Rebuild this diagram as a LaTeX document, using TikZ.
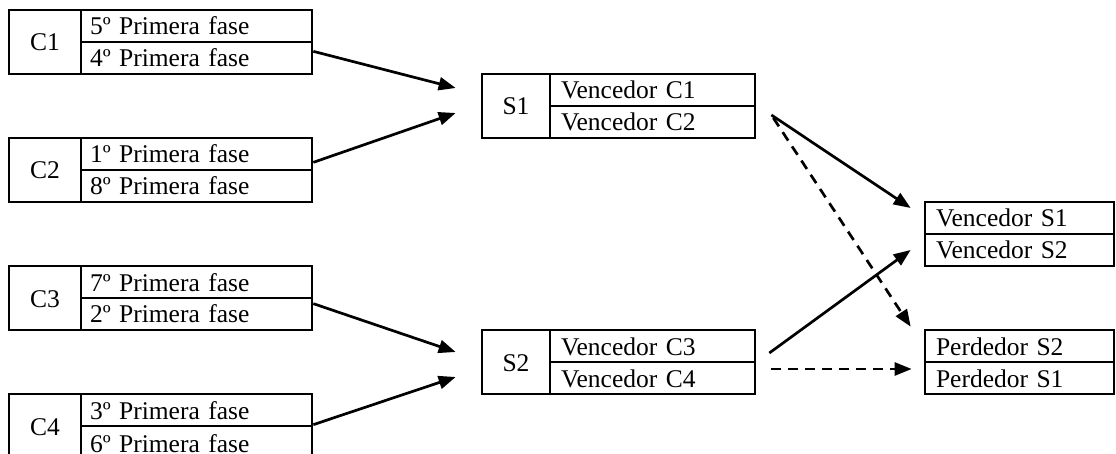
\documentclass[tikz,border=0pt]{standalone}
\usepackage{fontspec}
\setmainfont{Liberation Serif}
\usetikzlibrary{arrows.meta}
\begin{document}
\begin{tikzpicture}[x=1pt,y=-1pt,
  cell/.style={draw, line width=2.7pt, inner ysep=0pt, text height=22pt, text depth=4pt,
    font=\fontsize{25.5}{30}\selectfont},
  clab/.style={cell, minimum width=72pt, minimum height=64pt, inner xsep=0pt, align=center},
  slab/.style={cell, minimum width=68pt, minimum height=64pt, inner xsep=0pt, align=center},
  crow/.style={cell, minimum height=32pt, text width=213pt, inner xsep=9pt, align=left},
  srow/.style={cell, minimum height=32pt, text width=183pt, inner xsep=11pt, align=left},
  rrow/.style={cell, minimum height=32pt, text width=167pt, inner xsep=11pt, align=left},
  arr/.style={line width=2.7pt, -{Triangle[length=17pt,width=13pt]}},
  darr/.style={arr, dash pattern=on 10pt off 7pt}]
\useasboundingbox (0,0) rectangle (1116,454);
% C boxes
\node[clab] (c1l) at (45,42) {C1};
\node[crow] (c1a) at (196.5,26) {5º Primera fase};
\node[crow] (c1b) at (196.5,58) {4º Primera fase};
\node[clab] (c2l) at (45,170) {C2};
\node[crow] (c2a) at (196.5,154) {1º Primera fase};
\node[crow] (c2b) at (196.5,186) {8º Primera fase};
\node[clab] (c3l) at (45,298) {C3};
\node[crow] (c3a) at (196.5,282) {7º Primera fase};
\node[crow] (c3b) at (196.5,314) {2º Primera fase};
\node[clab] (c4l) at (45,426) {C4};
\node[crow] (c4a) at (196.5,410) {3º Primera fase};
\node[crow, text height=23pt, text depth=3pt] (c4b) at (196.5,442) {6º Primera fase};
% S boxes
\node[slab] (s1l) at (516,106) {S1};
\node[srow] (s1a) at (652.5,90) {Vencedor C1};
\node[srow] (s1b) at (652.5,122) {Vencedor C2};
\node[slab] (s2l) at (516,362) {S2};
\node[srow] (s2a) at (652.5,346) {Vencedor C3};
\node[srow] (s2b) at (652.5,378) {Vencedor C4};
% final boxes
\node[rrow] (v1) at (1019.5,218) {Vencedor S1};
\node[rrow] (v2) at (1019.5,250) {Vencedor S2};
\node[rrow] (p1) at (1019.5,346) {Perdedor S2};
\node[rrow] (p2) at (1019.5,378) {Perdedor S1};
% arrow end points
\coordinate (t1) at ([xshift=-25pt,yshift=18pt]s1l.west);
\coordinate (t2) at ([xshift=-25pt,yshift=-7pt]s1l.west);
\coordinate (t3) at ([xshift=-25pt,yshift=10pt]s2l.west);
\coordinate (t4) at ([xshift=-25pt,yshift=-15pt]s2l.west);
\coordinate (o1) at ([xshift=15pt,yshift=7pt]s1b.east);
\coordinate (o2) at ([xshift=17pt,yshift=4pt]s1b.east);
\coordinate (o3) at ([xshift=13pt,yshift=-7pt]s2a.east);
\coordinate (o4) at ([xshift=15pt,yshift=9pt]s2b.east);
\coordinate (t5) at ([xshift=-13pt,yshift=10pt]v1.west);
\coordinate (t6) at ([xshift=-13pt,yshift=2pt]p1.north west);
\coordinate (t7) at ([xshift=-13pt]v2.west);
\coordinate (t8) at ([xshift=-12pt,yshift=9pt]p2.west);
% arrows
\draw[arr] ([yshift=-8pt]c1a.south east) -- (t1);
\draw[arr] ([yshift=9pt]c2a.south east) -- (t2);
\draw[arr] ([yshift=-7pt]c3b.north east) -- (t3);
\draw[arr] (c4b.north east) -- (t4);
\draw[arr] (o1) -- (t5);
\draw[darr] (o2) -- (t6);
\draw[arr] (o3) -- (t7);
\draw[darr] (o4) -- (t8);
\end{tikzpicture}
\end{document}
